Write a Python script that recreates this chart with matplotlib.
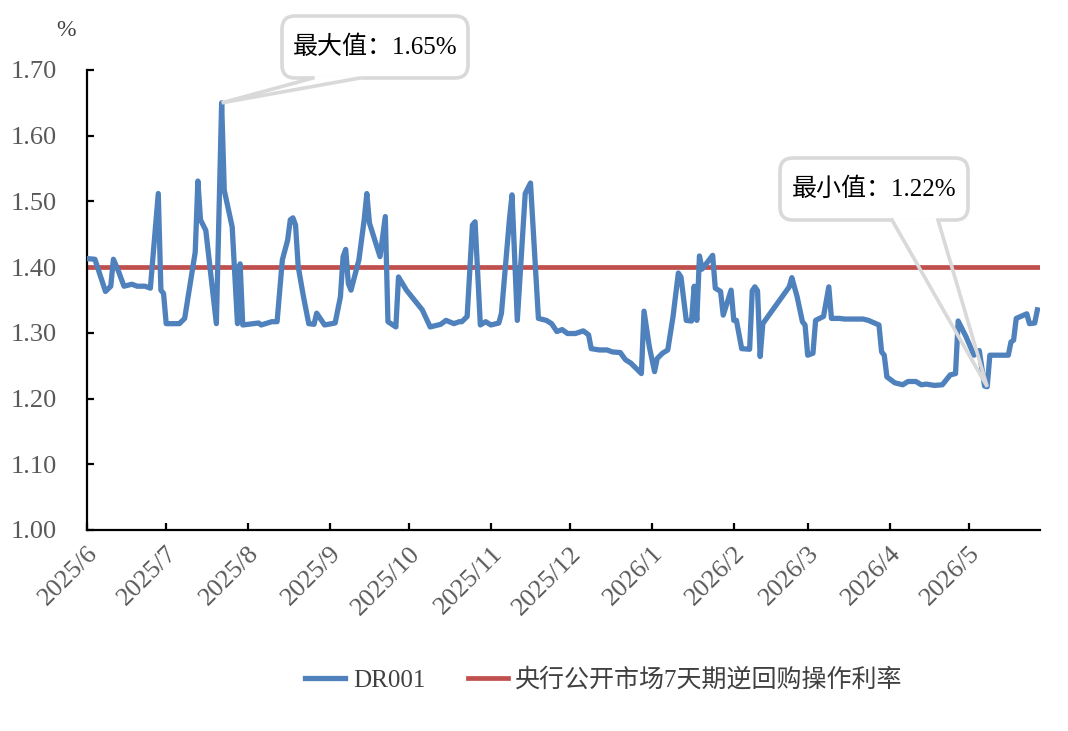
import matplotlib
matplotlib.use("Agg")
import matplotlib.pyplot as plt
import matplotlib.dates as mdates
from matplotlib.patches import FancyBboxPatch
from matplotlib.lines import Line2D
from matplotlib.transforms import Affine2D
import pandas as pd
import numpy as np

# DR001 daily rate (%)
dates = [
    "2025-06-01", "2025-06-04", "2025-06-08", "2025-06-10", "2025-06-11", "2025-06-13", "2025-06-15",
    "2025-06-18", "2025-06-20", "2025-06-23", "2025-06-25", "2025-06-28", "2025-06-29", "2025-06-30",
    "2025-07-01", "2025-07-06", "2025-07-08", "2025-07-12", "2025-07-13", "2025-07-14", "2025-07-16",
    "2025-07-20", "2025-07-22", "2025-07-23", "2025-07-26", "2025-07-28", "2025-07-29", "2025-07-30",
    "2025-08-05", "2025-08-06", "2025-08-10", "2025-08-12", "2025-08-14", "2025-08-16", "2025-08-17",
    "2025-08-18", "2025-08-19", "2025-08-20", "2025-08-22", "2025-08-24", "2025-08-26", "2025-08-27",
    "2025-08-30", "2025-09-03", "2025-09-05", "2025-09-06", "2025-09-07", "2025-09-08", "2025-09-09",
    "2025-09-12", "2025-09-14", "2025-09-15", "2025-09-16", "2025-09-20", "2025-09-22", "2025-09-23",
    "2025-09-26", "2025-09-27", "2025-09-30", "2025-10-06", "2025-10-09", "2025-10-13", "2025-10-15",
    "2025-10-18", "2025-10-20", "2025-10-21", "2025-10-23", "2025-10-25", "2025-10-26", "2025-10-28",
    "2025-10-30", "2025-11-01", "2025-11-04", "2025-11-05", "2025-11-08", "2025-11-09", "2025-11-11",
    "2025-11-14", "2025-11-16", "2025-11-19", "2025-11-22", "2025-11-24", "2025-11-26", "2025-11-28",
    "2025-11-30", "2025-12-03", "2025-12-06", "2025-12-08", "2025-12-09", "2025-12-12", "2025-12-15",
    "2025-12-17", "2025-12-20", "2025-12-22", "2025-12-24", "2025-12-28", "2025-12-29", "2025-12-31",
    "2026-01-02", "2026-01-03", "2026-01-05", "2026-01-07", "2026-01-09", "2026-01-11", "2026-01-12",
    "2026-01-14", "2026-01-16", "2026-01-17", "2026-01-18", "2026-01-19", "2026-01-20", "2026-01-24",
    "2026-01-25", "2026-01-27", "2026-01-28", "2026-01-31", "2026-02-01", "2026-02-02", "2026-02-04",
    "2026-02-07", "2026-02-08", "2026-02-09", "2026-02-10", "2026-02-11", "2026-02-12", "2026-02-22",
    "2026-02-23", "2026-02-25", "2026-02-27", "2026-02-28", "2026-03-01", "2026-03-03", "2026-03-04",
    "2026-03-07", "2026-03-09", "2026-03-10", "2026-03-13", "2026-03-15", "2026-03-22", "2026-03-24",
    "2026-03-28", "2026-03-29", "2026-03-30", "2026-03-31", "2026-04-03", "2026-04-06", "2026-04-08",
    "2026-04-11", "2026-04-13", "2026-04-15", "2026-04-18", "2026-04-21", "2026-04-24", "2026-04-26",
    "2026-04-27", "2026-04-30", "2026-05-03", "2026-05-05", "2026-05-07", "2026-05-08", "2026-05-09",
    "2026-05-11", "2026-05-16", "2026-05-17", "2026-05-18", "2026-05-19", "2026-05-23", "2026-05-24",
    "2026-05-26", "2026-05-27",
]
dr001 = [
    1.413, 1.412, 1.363, 1.371, 1.412, 1.393, 1.371,
    1.374, 1.371, 1.371, 1.368, 1.512, 1.365, 1.360,
    1.314, 1.314, 1.322, 1.423, 1.531, 1.472, 1.456,
    1.314, 1.650, 1.517, 1.461, 1.314, 1.405, 1.312,
    1.315, 1.312, 1.317, 1.317, 1.411, 1.441, 1.472,
    1.475, 1.464, 1.401, 1.355, 1.314, 1.313, 1.330,
    1.312, 1.315, 1.355, 1.416, 1.427, 1.375, 1.365,
    1.411, 1.472, 1.512, 1.467, 1.416, 1.477, 1.317,
    1.309, 1.385, 1.365, 1.335, 1.309, 1.313, 1.319,
    1.314, 1.317, 1.317, 1.325, 1.464, 1.469, 1.312,
    1.317, 1.312, 1.315, 1.330, 1.472, 1.510, 1.319,
    1.512, 1.528, 1.322, 1.319, 1.314, 1.302, 1.305,
    1.299, 1.299, 1.303, 1.297, 1.276, 1.274, 1.274,
    1.271, 1.270, 1.259, 1.254, 1.238, 1.333, 1.279,
    1.241, 1.261, 1.269, 1.274, 1.325, 1.391, 1.385,
    1.319, 1.318, 1.371, 1.319, 1.417, 1.397, 1.418,
    1.368, 1.363, 1.327, 1.365, 1.319, 1.319, 1.276,
    1.275, 1.364, 1.370, 1.364, 1.264, 1.314, 1.370,
    1.384, 1.355, 1.317, 1.312, 1.266, 1.269, 1.319,
    1.325, 1.370, 1.322, 1.322, 1.321, 1.321, 1.319,
    1.312, 1.271, 1.266, 1.233, 1.224, 1.221, 1.226,
    1.226, 1.221, 1.222, 1.220, 1.221, 1.236, 1.238,
    1.318, 1.294, 1.266, 1.273, 1.219, 1.218, 1.266,
    1.266, 1.266, 1.286, 1.289, 1.322, 1.329, 1.314,
    1.315, 1.335,
]
repo_rate = 1.40  # 7-day reverse repo rate

tick_dates = ["2025-06-01", "2025-07-01", "2025-08-01", "2025-09-01", "2025-10-01", "2025-11-01",
              "2025-12-01", "2026-01-01", "2026-02-01", "2026-03-01", "2026-04-01", "2026-05-01"]
tick_labels = ["2025/6", "2025/7", "2025/8", "2025/9", "2025/10", "2025/11",
               "2025/12", "2026/1", "2026/2", "2026/3", "2026/4", "2026/5"]
y_ticks = [1.00, 1.10, 1.20, 1.30, 1.40, 1.50, 1.60, 1.70]

W, H = 1068, 731
plt.rcParams["font.family"] = ["Liberation Serif", "Noto Sans CJK SC"]

x = pd.to_datetime(dates)
x_start = pd.Timestamp("2025-06-01")
x_end = pd.Timestamp("2026-05-28")

fig = plt.figure(figsize=(W / 100, H / 100), dpi=100)
ax = fig.add_axes([87 / W, 1 - 530 / H, (1040 - 87) / W, 460 / H])

ax.plot(x, dr001, color="#4F81BD", lw=3.8, label="DR001", solid_joinstyle="round", zorder=3)
ax.plot([x_start, x_end], [repo_rate, repo_rate], color="#C0504D", lw=3.4,
        label="央行公开市场7天期逆回购操作利率", zorder=2)

ax.set_xlim(x_start, x_end)
ax.set_ylim(1.0, 1.7)
ax.set_yticks(y_ticks)
ax.set_yticklabels(["%.2f" % v for v in y_ticks])
ax.set_xticks(pd.to_datetime(tick_dates))
ax.set_xticklabels(tick_labels, rotation=45, ha="right", rotation_mode="anchor")

for s in ["top", "right"]:
    ax.spines[s].set_visible(False)
for s in ["left", "bottom"]:
    ax.spines[s].set_linewidth(1.6)
ax.tick_params(axis="both", direction="in", length=5, width=1.6, labelcolor="#595959")
ax.tick_params(axis="x", pad=9, labelsize=19)
ax.tick_params(axis="y", pad=22, labelsize=19)

fig.text(66 / W, 1 - 30 / H, "%", ha="center", va="center", fontsize=17, color="#404040")

# callouts: box in pixel coords, tail to the data point
pix = Affine2D().scale(1 / W, 1 / H) + fig.transFigure


def callout(left, top, right, bottom, base0, base1, xi, yi, text):
    yb = H - bottom
    fig.add_artist(FancyBboxPatch((left, yb), right - left, bottom - top,
                                  boxstyle="round,pad=0,rounding_size=13", transform=pix,
                                  fc="white", ec="#D9D9D9", lw=2.6, zorder=5))
    tip = pix.inverted().transform(ax.transData.transform((mdates.date2num(xi), yi)))
    fig.add_artist(Line2D([base0 + 1.5, base1 - 1.5], [yb, yb], color="white", lw=3.5,
                          transform=pix, zorder=6))
    fig.add_artist(Line2D([base0, tip[0], base1], [yb, tip[1], yb], color="#D9D9D9", lw=2.6,
                          transform=pix, zorder=7, solid_joinstyle="miter"))
    fig.text((left + right) / 2 / W, 1 - (top + bottom) / 2 / H, text, ha="center",
             va="center", fontsize=18, color="black", zorder=8)


imax = int(np.argmax(dr001))
imin = int(np.argmin(dr001))
callout(282, 16, 468, 78, 313, 360, x[imax], dr001[imax], "最大值：%.2f%%" % dr001[imax])
callout(780, 158, 968, 220, 892, 938, x[imin], dr001[imin], "最小值：%.2f%%" % dr001[imin])

fig.legend(loc="center", bbox_to_anchor=(604 / W, 1 - 680 / H), ncol=2, frameon=False,
           fontsize=18, handlelength=1.6, handletextpad=0.3, columnspacing=1.7,
           labelcolor="#404040")

fig.savefig("out.png", dpi=100)
